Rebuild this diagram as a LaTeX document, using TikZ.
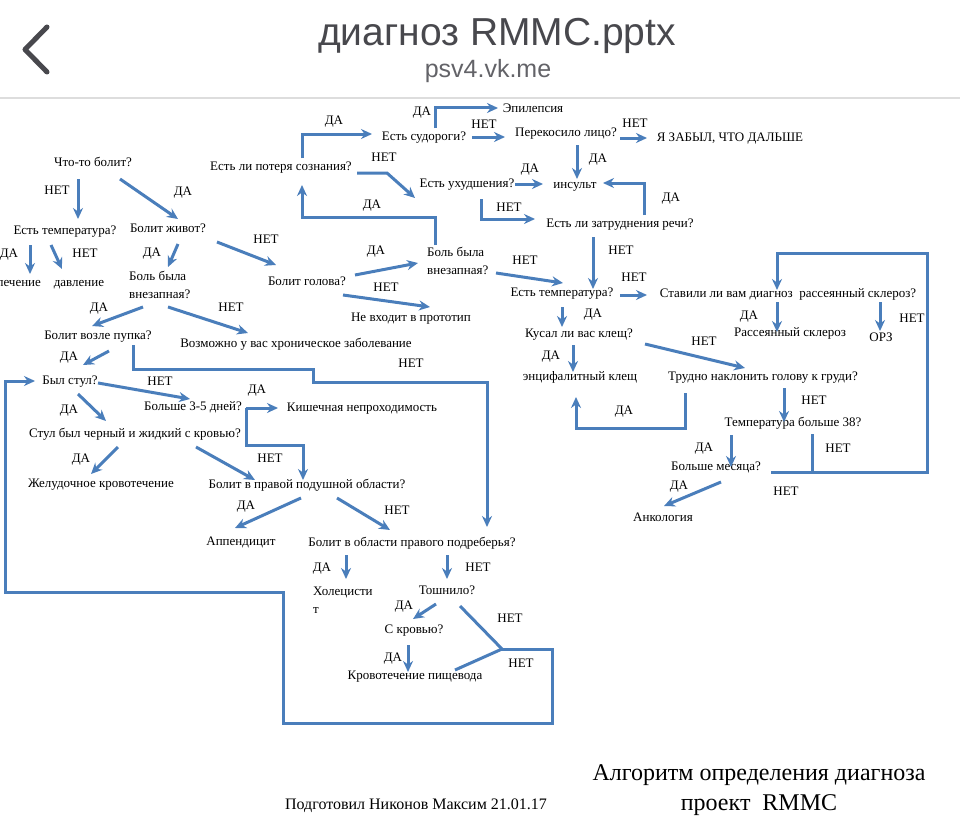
\documentclass[tikz,border=0pt]{standalone}
\usepackage{fontspec}
\setmainfont{Liberation Serif}
\newfontfamily\uifont{Liberation Sans}
\usepackage{tikz}
\usetikzlibrary{arrows.meta,calc}
\definecolor{pptblue}{HTML}{4A7EBB}
\definecolor{iosgray}{HTML}{48484D}
\definecolor{rulegray}{HTML}{DDDDDD}

\begin{document}
\begin{tikzpicture}[x=1pt,y=-1pt,
  q/.style={inner sep=1pt,text height=9pt,text depth=3pt,font=\fontsize{13}{17.5}\selectfont},
  q2/.style={inner sep=1pt,align=left,font=\fontsize{13}{17.5}\selectfont},
  lbl/.style={inner sep=0pt,text height=8.6pt,text depth=0pt,font=\fontsize{13}{15}\selectfont},
  arr/.style={-{Stealth[length=11pt,width=10pt]},line width=3pt,pptblue},
  wire/.style={line width=3pt,pptblue}
]
\useasboundingbox (0,0) rectangle (960,824);
\fill[white] (0,0) rectangle (960,824);

% header of the viewer
\draw[iosgray,line width=5pt,line cap=round,line join=round] (47,27) -- (25,49.5) -- (47,72);
\node[anchor=base,inner sep=0pt,text=iosgray,font=\uifont\fontsize{39}{45}\selectfont] (doc) at (497,46) {диагноз RMMC.pptx};
\node[anchor=base,inner sep=0pt,text=iosgray!85,font=\uifont\fontsize{25}{30}\selectfont] (host) at (488,78) {psv4.vk.me};
\draw[rulegray,line width=2pt] (0,98) -- (960,98);

% left branch
\node[q] (pain) at (93,163) {Что-то болит?};
\node[q] (temp) at (65,231) {Есть температура?};
\node[q] (treat) at (19,283) {лечение};
\node[q] (press) at (79,283) {давление};
\node[q] (belly) at (168,229) {Болит живот?};
\node[q2,anchor=west] (suddenB) at (128,285) {Боль была\\внезапная?};
\node[q] (head) at (307,282) {Болит голова?};
\node[q] (navel) at (98,336) {Болит возле пупка?};
\node[q] (chronic) at (296,344) {Возможно у вас хроническое заболевание};
\node[q] (stool) at (70,381) {Был стул?};
\node[q] (days) at (193,407) {Больше 3-5 дней?};
\node[q] (ileus) at (362,408) {Кишечная непроходимость};
\node[q] (black) at (135,434) {Стул был черный и жидкий с кровью?};
\node[q] (gastric) at (101,484) {Желудочное кровотечение};
\node[q] (right) at (307,485) {Болит в правой подушной области?};
\node[q] (append) at (241,542) {Аппендицит};
\node[q] (hypo) at (412,543) {Болит в области правого подреберья?};
\node[q2,anchor=west] (chole) at (312,600) {Холецисти\\т};
\node[q] (nausea) at (447,591) {Тошнило?};
\node[q] (blood) at (414,630) {С кровью?};
\node[q] (esoph) at (415,676) {Кровотечение пищевода};

% head branch
\node[q] (faint) at (281,167) {Есть ли потеря сознания?};
\node[q] (seiz) at (424,137) {Есть судороги?};
\node[q] (epil) at (533,110) {Эпилепсия};
\node[q] (face) at (566,133) {Перекосило лицо?};
\node[q] (forgot) at (730,138) {Я ЗАБЫЛ, ЧТО ДАЛЬШЕ};
\node[q] (worse) at (467,184) {Есть ухудшения?};
\node[q] (stroke) at (575,185) {инсульт};
\node[q] (speech) at (620,224) {Есть ли затруднения речи?};
\node[q2,anchor=west] (suddenH) at (426,261) {Боль была\\внезапная?};
\node[q] (proto) at (411,318) {Не входит в прототип};

% right branch
\node[q] (tempR) at (562,293) {Есть температура?};
\node[q] (ms) at (788,294) {Ставили ли вам диагноз\ \ рассеянный склероз?};
\node[q] (tick) at (579,334) {Кусал ли вас клещ?};
\node[q] (msyes) at (790,333) {Рассеянный склероз};
\node[q] (orz) at (881,338) {ОРЗ};
\node[q] (enc) at (580,377) {энцифалитный клещ};
\node[q] (neck) at (763,377) {Трудно наклонить голову к груди?};
\node[q] (t38) at (793,423) {Температура больше 38?};
\node[q] (month) at (716,467) {Больше месяца?};
\node[q] (onco) at (663,518) {Анкология};

% footer
\node[anchor=base,inner sep=0pt,font=\fontsize{16}{19}\selectfont] (author) at (416,809) {Подготовил Никонов Максим 21.01.17};
\node[inner sep=0pt,align=center,font=\fontsize{24}{30}\selectfont] (caption) at (759,790) {Алгоритм определения диагноза\\проект\ \ RMMC};

% yes / no labels
\node[lbl] (n-pain) at (57,190) {НЕТ};
\node[lbl] (y-pain) at (183,191) {ДА};
\node[lbl] (y-temp) at (9,253) {ДА};
\node[lbl] (n-temp) at (85,253) {НЕТ};
\node[lbl] (y-belly) at (152,252) {ДА};
\node[lbl] (n-belly) at (266,239) {НЕТ};
\node[lbl] (y-sudB) at (99,307) {ДА};
\node[lbl] (n-sudB) at (231,307) {НЕТ};
\node[lbl] (y-navel) at (69,356) {ДА};
\node[lbl] (n-navel) at (411,363) {НЕТ};
\node[lbl] (n-stool) at (160,381) {НЕТ};
\node[lbl] (y-stool) at (69,409) {ДА};
\node[lbl] (y-days) at (257,389) {ДА};
\node[lbl] (n-days) at (270,458) {НЕТ};
\node[lbl] (y-black) at (81,458) {ДА};
\node[lbl] (y-right) at (246,505) {ДА};
\node[lbl] (n-right) at (397,510) {НЕТ};
\node[lbl] (y-hypo) at (322,567) {ДА};
\node[lbl] (n-hypo) at (478,567) {НЕТ};
\node[lbl] (y-naus) at (404,605) {ДА};
\node[lbl] (n-naus) at (510,618) {НЕТ};
\node[lbl] (y-blood) at (393,657) {ДА};
\node[lbl] (n-esoph) at (521,663) {НЕТ};
\node[lbl] (y-faint) at (334,120) {ДА};
\node[lbl] (n-faint) at (384,157) {НЕТ};
\node[lbl] (y-sudH) at (372,204) {ДА};
\node[lbl] (y-head) at (376,250) {ДА};
\node[lbl] (n-head) at (386,287) {НЕТ};
\node[lbl] (y-seiz) at (422,111) {ДА};
\node[lbl] (n-seiz) at (484,124) {НЕТ};
\node[lbl] (n-face) at (635,123) {НЕТ};
\node[lbl] (y-face) at (598,158) {ДА};
\node[lbl] (y-worse) at (530,168) {ДА};
\node[lbl] (n-worse) at (509,207) {НЕТ};
\node[lbl] (y-speech) at (671,197) {ДА};
\node[lbl] (n-speech) at (621,250) {НЕТ};
\node[lbl] (n-sudH) at (525,260) {НЕТ};
\node[lbl] (n-tempR) at (634,277) {НЕТ};
\node[lbl] (y-tempR) at (593,313) {ДА};
\node[lbl] (y-ms) at (749,315) {ДА};
\node[lbl] (n-ms) at (912,318) {НЕТ};
\node[lbl] (y-tick) at (551,355) {ДА};
\node[lbl] (n-tick) at (704,341) {НЕТ};
\node[lbl] (y-neck) at (624,410) {ДА};
\node[lbl] (n-neck) at (814,400) {НЕТ};
\node[lbl] (y-t38) at (704,447) {ДА};
\node[lbl] (n-t38) at (838,448) {НЕТ};
\node[lbl] (y-month) at (679,485) {ДА};
\node[lbl] (n-month) at (786,491) {НЕТ};

% connectors, left branch
\draw[arr] ($(pain)+(-15,16)$) -- ($(temp)+(13,-12)$);
\draw[arr] ($(pain)+(27,16)$) -- ($(belly)+(10,-10)$);
\draw[arr] ($(temp)+(-35,14)$) -- ($(treat)+(11,-9)$);
\draw[arr] ($(temp)+(-14,14)$) -- ($(press)+(-17,-14)$);
\draw[arr] ($(belly)+(10,15)$) -- ($(suddenB.west)+(40,-18)$);
\draw[arr] ($(belly)+(49,13)$) -- ($(head)+(-31,-17)$);
\draw[arr] ($(suddenB.west)+(15,22)$) -- ($(navel)+(-6,-10)$);
\draw[arr] ($(suddenB.west)+(40,22)$) -- ($(chronic)+(-48,-11)$);
\draw[arr] ($(navel)+(11,15)$) -- ($(stool)+(13,-16)$);
\draw[arr] ($(navel)+(35,9)$) |- ($(chronic)+(17,25)$) |- ($(hypo)+(75,-161)$) -- ($(hypo)+(75,-16)$);
\draw[arr] ($(stool)+(28,2)$) -- ($(days)+(-3,-8)$);
\draw[arr] ($(stool)+(8,13)$) -- ($(black)+(-29,-13)$);
\draw[arr] ($(days)+(53,1)$) -- ($(ileus)+(-84,0)$);
\draw[arr] ($(days)+(53,1)$) |- ($(right)+(-4,-40)$) -- ($(right)+(-4,-5)$);
\draw[arr] ($(black)+(-17,13)$) -- ($(gastric)+(-10,-10)$);
\draw[arr] ($(black)+(61,13)$) -- ($(right)+(-52,-5)$);
\draw[arr] ($(right)+(-6,13)$) -- ($(append)+(-6,-14)$);
\draw[arr] ($(right)+(30,13)$) -- ($(hypo)+(-22,-13)$);
\draw[arr] ($(hypo)+(-66,12)$) -- ($(chole.west)+(34,-21)$);
\draw[arr] ($(hypo)+(35,12)$) -- ($(nausea)+(0,-12)$);
\draw[arr] ($(nausea)+(-11,13)$) -- ($(blood)+(-1,-11)$);
\draw[arr] ($(blood)+(-6,15)$) -- ($(esoph)+(-7,-4)$);
\coordinate (knot) at (502,649);
\draw[wire] ($(nausea)+(13,15)$) -- (knot);
\draw[wire] ($(esoph)+(40,-6)$) -- (knot);
\draw[arr] (knot) -| ($(esoph)+(137,47)$) -| ($(chole.west)+(-29,-8)$) -| ($(stool)+(-65,0)$) -- ($(stool)+(-35,0)$);

% connectors, head branch
\draw[arr] ($(head)+(48,-7)$) -- ($(suddenH.west)+(-8,2)$);
\draw[arr] ($(head)+(36,13)$) -- ($(proto)+(19,-11)$);
\draw[arr] ($(suddenH.west)+(9,-16)$) |- ($(faint)+(21,50)$) -- ($(faint)+(21,18)$);
\draw[arr] ($(faint)+(21,-9)$) |- ($(seiz)+(-52,-3)$);
\draw[arr] ($(faint)+(76,6)$) -- ($(faint)+(106,6)$) -- ($(worse)+(-52,14)$);
\draw[arr] ($(seiz)+(11,-9)$) |- ($(epil)+(-35,-2)$);
\draw[arr] ($(seiz)+(48,0)$) -- ($(face)+(-61,4)$);
\draw[arr] ($(face)+(54,5)$) -- ($(forgot)+(-83,0)$);
\draw[arr] ($(face)+(11,12)$) -- ($(stroke)+(2,-6)$);
\draw[arr] ($(worse)+(48,0)$) -- ($(stroke)+(-32,-1)$);
\draw[arr] ($(worse)+(14,15)$) |- ($(speech)+(-85,-5)$);
\draw[arr] ($(speech)+(24,-9)$) |- ($(stroke)+(28,-2)$);
\draw[arr] ($(speech)+(-27,13)$) -- ($(tempR)+(31,-4)$);
\draw[arr] ($(suddenH.west)+(70,12)$) -- ($(tempR)+(1,-10)$);

% connectors, right branch
\draw[arr] ($(tempR)+(58,2)$) -- ($(ms)+(-141,1)$);
\draw[arr] ($(tempR)+(0,14)$) -- ($(tick)+(-17,-7)$);
\draw[arr] ($(ms)+(-11,8)$) -- ($(msyes)+(-13,-1)$);
\draw[arr] ($(ms)+(92,8)$) -- ($(orz)+(-1,-7)$);
\draw[arr] ($(tick)+(-6,11)$) -- ($(enc)+(-7,-5)$);
\draw[arr] ($(tick)+(66,10)$) -- ($(neck)+(-18,-9)$);
\draw[arr] ($(neck)+(-78,16)$) |- ($(enc)+(-4,51)$) -- ($(enc)+(-4,20)$);
\draw[arr] ($(neck)+(21,11)$) -- ($(t38)+(-9,-1)$);
\draw[arr] ($(t38)+(-62,12)$) -- ($(month)+(15,0)$);
\draw[arr] ($(month)+(5,15)$) -- ($(onco)+(1,-12)$);
\draw[wire] ($(t38)+(19,11)$) -- ($(t38)+(19,49)$);
\draw[arr] ($(month)+(55,5)$) -| ($(ms)+(139,-41)$) -| ($(ms)+(-11,-4)$);
\end{tikzpicture}
\end{document}
